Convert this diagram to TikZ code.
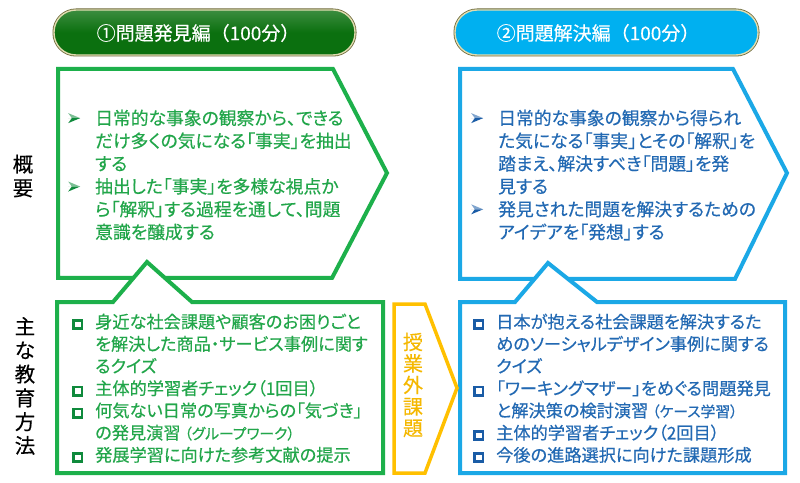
\documentclass[tikz,border=0pt]{standalone}
\usepackage{fontspec}
\setmainfont{Noto Sans CJK JP}[RawFeature=+palt, FakeBold=0.4]
\newfontfamily\jpfull{Noto Sans CJK JP}[FakeBold=0.3]
\definecolor{gborder}{HTML}{1DB04B}
\definecolor{gtext}{HTML}{22A64A}
\definecolor{gsq}{HTML}{0F8A3C}
\definecolor{gpill}{HTML}{0B700F}
\definecolor{bborder}{HTML}{1BA8E6}
\definecolor{btext}{HTML}{2269B3}
\definecolor{bsq}{HTML}{1A5CA6}
\definecolor{bpill}{HTML}{00B0F0}
\definecolor{orng}{HTML}{FFC000}
\definecolor{orngtext}{HTML}{F5B800}
\definecolor{rimdark}{HTML}{6F6A3A}
\definecolor{rimlight}{HTML}{E0DCB0}
\newcommand\arrb[1]{\makebox[27bp][l]{\tikz[baseline=-1.6bp]{\fill[#1!55!white] (0bp,5bp) -- (12bp,5bp) -- (0bp,10bp) -- (3.6bp,5bp) -- cycle; \fill[#1] (0bp,0bp) -- (12bp,5bp) -- (3.6bp,5bp) -- cycle;}}}
\newcommand\sqb[1]{\makebox[23bp][l]{\raisebox{1.0bp}{\textcolor{#1}{\setlength\fboxrule{2.7bp}\setlength\fboxsep{0pt}\fbox{\rule{0pt}{5.6bp}\hspace{5.6bp}}}}}}
\newcommand\indA{\hspace*{27bp}}
\newcommand\indB{\hspace*{23bp}}
\newcommand\smallp[1]{{\fontsize{14.8bp}{14.8bp}\selectfont #1}}
\begin{document}
\begin{tikzpicture}[x=1bp,y=-1bp,
  pill/.style={rounded corners=22bp},
  boxline/.style={line width=4bp, line join=miter},
  body/.style={anchor=north west, align=left, inner sep=0pt, font=\fontsize{17.8bp}{22.8bp}\selectfont},
  listtext/.style={anchor=north west, align=left, inner sep=0pt, font=\fontsize{17.2bp}{22.2bp}\selectfont},
  pilltext/.style={text=white, inner sep=0pt, font=\jpfull\fontsize{19bp}{19bp}\selectfont},
  sidelabel/.style={align=center, inner sep=0pt, font=\jpfull\fontsize{20.5bp}{23.8bp}\selectfont}
]
\useasboundingbox (0,0) rectangle (800,483);
\fill[white] (0,0) rectangle (800,483);

% pills
\draw[pill, rimdark, line width=3bp] (54,10) rectangle (355,55);
\fill[pill, top color=gpill!80!white, bottom color=gpill, middle color=gpill] (54,10) rectangle (355,55);
\draw[pill, rimlight, line width=1.4bp] (54,10) rectangle (355,55);
\node[pilltext] (p1) at (198,33) {①問題発見編（100分）};

\draw[pill, rimdark, line width=3bp] (455,10) rectangle (758,55);
\fill[pill, bpill] (455,10) rectangle (758,55);
\draw[pill, rimlight, line width=1.4bp] (455,10) rectangle (758,55);
\node[pilltext] (p2) at (598,33) {②問題解決編（100分）};

% upper pentagons
\draw[boxline, gborder] (58,69) -- (333,69) -- (387,173) -- (332,278) -- (58,278) -- cycle;
\draw[boxline, bborder] (460,69) -- (733,69) -- (787,173) -- (735,279) -- (460,279) -- cycle;

% lower notched boxes
\draw[boxline, gborder, fill=white] (57,302) -- (113,302) -- (147,262) -- (192,302) -- (383,302) -- (383,473) -- (57,473) -- cycle;
\draw[boxline, bborder, fill=white] (460,302) -- (515,302) -- (548,263) -- (597,302) -- (785,302) -- (785,473) -- (460,473) -- cycle;

% orange pentagon
\draw[line width=3.5bp, orng, line join=miter] (394,304) -- (425,304) -- (457,388) -- (425,473) -- (394,473) -- cycle;
\node[align=center, inner sep=0pt, text=orngtext, font=\jpfull\fontsize{20bp}{21.5bp}\selectfont] (ex) at (413,385) {授\\業\\外\\課\\題};

% side labels
\node[sidelabel] (l1) at (23,176) {概\\要};
\node[sidelabel] (l2) at (25,386) {主\\な\\教\\育\\方\\法};

% upper texts
\node[body, text=gtext] (t1) at (68,109.5) {%
\arrb{gsq}日常的な事象の観察から、できる\\
\indA だけ多くの気になる「事実」を抽出\\
\indA する\\
\arrb{gsq}抽出した「事実」を多様な視点か\\
\indA ら「解釈」する過程を通して、問題\\
\indA 意識を醸成する};

\node[body, text=btext] (t2) at (471,109.5) {%
\arrb{bsq}日常的な事象の観察から得られ\\
\indA た気になる「事実」とその「解釈」を\\
\indA 踏まえ、解決すべき「問題」を発\\
\indA 見する\\
\arrb{bsq}発見された問題を解決するための\\
\indA アイデアを「発想」する};

% lower lists
\node[listtext, text=gtext] (t3) at (72,313.5) {%
\sqb{gsq}身近な社会課題や顧客のお困りごと\\
\indB を解決した商品・サービス事例に関す\\
\indB るクイズ\\
\sqb{gsq}主体的学習者チェック（1回目）\\
\sqb{gsq}何気ない日常の写真からの「気づき」\\
\indB の発見演習 \smallp{（グループワーク）}\\
\sqb{gsq}発展学習に向けた参考文献の提示};

\node[listtext, text=btext] (t4) at (473,313.5) {%
\sqb{bsq}日本が抱える社会課題を解決するた\\
\indB めのソーシャルデザイン事例に関する\\
\indB クイズ\\
\sqb{bsq}「ワーキングマザー」をめぐる問題発見\\
\indB と解決策の検討演習 \smallp{（ケース学習）}\\
\sqb{bsq}主体的学習者チェック（2回目）\\
\sqb{bsq}今後の進路選択に向けた課題形成};
\end{tikzpicture}
\end{document}
